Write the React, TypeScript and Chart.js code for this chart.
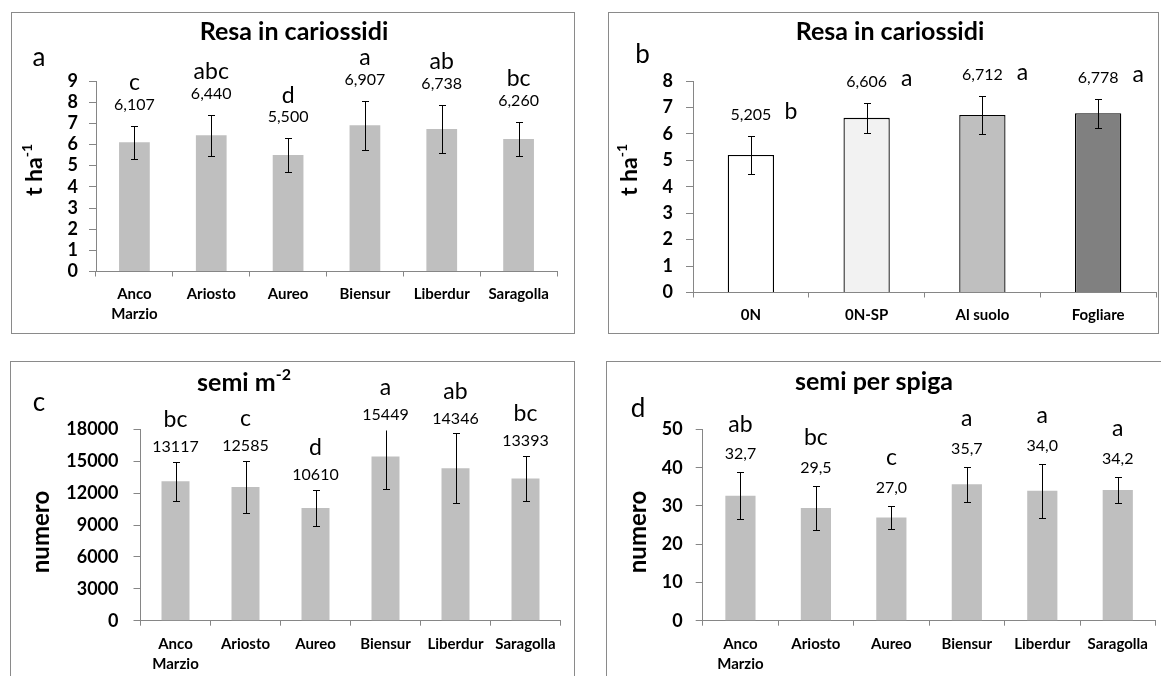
import React, { useEffect, useRef } from 'react';
import { Chart, registerables } from 'chart.js';

Chart.register(...registerables);

const FONT = 'Lato, "Open Sans", sans-serif';

// ---------- data ----------
const varieties = [['Anco', 'Marzio'], 'Ariosto', 'Aureo', 'Biensur', 'Liberdur', 'Saragolla'];
const treatments = ['0N', '0N-SP', 'Al suolo', 'Fogliare'];

const yieldByVariety = [6.107, 6.44, 5.5, 6.907, 6.738, 6.26];
const yieldByVarietyErr = [0.78, 0.96, 0.8, 1.15, 1.13, 0.8];
const yieldByVarietyLetters = ['c', 'abc', 'd', 'a', 'ab', 'bc'];
const yieldTicksA = [0, 9, 1];

const yieldByTreatment = [5.205, 6.606, 6.712, 6.778];
const yieldByTreatmentErr = [0.73, 0.57, 0.71, 0.55];
const yieldByTreatmentLetters = ['b', 'a', 'a', 'a'];
const treatmentColors = ['#ffffff', '#f2f2f2', '#bfbfbf', '#808080'];
const yieldTicksB = [0, 8, 1];

const seedsPerM2 = [13117, 12585, 10610, 15449, 14346, 13393];
const seedsPerM2Err = [1830, 2445, 1725, 3090, 3290, 2115];
const seedsPerM2Letters = ['bc', 'c', 'd', 'a', 'ab', 'bc'];
const seedsTicksC = [0, 18000, 3000];

const seedsPerSpike = [32.7, 29.5, 27.0, 35.7, 34.0, 34.2];
const seedsPerSpikeErr = [6.1, 5.75, 3.05, 4.55, 7.05, 3.4];
const seedsPerSpikeLetters = ['ab', 'bc', 'c', 'a', 'a', 'a'];
const seedsTicksD = [0, 50, 10];

// ---------- helpers ----------
function drawSupText(ctx: CanvasRenderingContext2D, main: string, sup: string, x: number, y: number, size: number, bold: boolean, rotate: boolean) {
  ctx.save();
  ctx.translate(x, y);
  if (rotate) ctx.rotate(-Math.PI / 2);
  const w = bold ? 'bold ' : '';
  const f1 = `${w}${size}px ${FONT}`;
  const supSize = Math.round(size * 0.62);
  const f2 = `${w}${supSize}px ${FONT}`;
  ctx.font = f1;
  const w1 = ctx.measureText(main).width;
  ctx.font = f2;
  const w2 = sup ? ctx.measureText(sup).width : 0;
  const start = -(w1 + w2) / 2;
  ctx.textBaseline = 'middle';
  ctx.textAlign = 'left';
  ctx.fillStyle = '#000';
  ctx.font = f1;
  ctx.fillText(main, start, 0);
  if (sup) {
    ctx.font = f2;
    ctx.fillText(sup, start + w1, -size * 0.32);
  }
  ctx.restore();
}

const decorPlugin = {
  id: 'decor',
  afterDatasetsDraw(chart: any, _args: any, o: any) {
    const { ctx, chartArea } = chart;
    const xs = chart.scales.x;
    const ys = chart.scales.y;
    ctx.save();
    // panel border
    ctx.strokeStyle = '#8a8a8a';
    ctx.lineWidth = 1;
    ctx.strokeRect(0.5, 0.5, chart.width - 1, chart.height - 1);

    // titles
    drawSupText(ctx, o.title, o.titleSup, o.titleX, o.titleY, o.titleSize, true, false);
    drawSupText(ctx, o.tag, '', o.tagX, o.tagY, 26, false, false);
    drawSupText(ctx, o.yTitle, o.yTitleSup, o.yTitleX, o.yTitleY, o.yTitleSize, true, true);

    // error bars
    ctx.strokeStyle = '#000';
    ctx.lineWidth = 1;
    const values: number[] = o.values;
    const errs: number[] = o.errors;
    const tops: number[] = [];
    values.forEach((v, i) => {
      const cx = Math.round(xs.getPixelForValue(i)) + 0.5;
      const top = ys.getPixelForValue(v + errs[i]);
      const bot = ys.getPixelForValue(v - errs[i]);
      const t = Math.max(top, chartArea.top);
      tops.push(t);
      ctx.beginPath();
      ctx.moveTo(cx, Math.round(t) + 0.5);
      ctx.lineTo(cx, Math.round(bot) + 0.5);
      if (top >= chartArea.top) {
        ctx.moveTo(cx - 3.5, Math.round(top) + 0.5);
        ctx.lineTo(cx + 3.5, Math.round(top) + 0.5);
      }
      ctx.moveTo(cx - 3.5, Math.round(bot) + 0.5);
      ctx.lineTo(cx + 3.5, Math.round(bot) + 0.5);
      ctx.stroke();
    });

    // value labels and letters
    ctx.fillStyle = '#000';
    ctx.textAlign = 'center';
    ctx.textBaseline = 'middle';
    values.forEach((v, i) => {
      const cx = xs.getPixelForValue(i);
      const vy = tops[i] - o.valueOffset;
      ctx.font = `16px ${FONT}`;
      ctx.fillText(v.toFixed(o.decimals).replace('.', ','), cx, vy);
      ctx.font = `23px ${FONT}`;
      if (o.letterRight) {
        ctx.fillText(o.letters[i], cx + o.letterDx, vy + o.letterDy);
      } else {
        ctx.fillText(o.letters[i], cx, vy - o.letterOffset);
      }
    });
    ctx.restore();
  },
};

type Spec = {
  left: number; top: number; w: number; h: number;
  area: { l: number; t: number; r: number; b: number };
  labels: any[]; values: number[]; errors: number[]; letters: string[];
  colors: string | string[]; borderWidth: number;
  ticks: number[]; yFont: number; yPad: number;
  decor: any;
};

function ChartPanel({ spec }: { spec: Spec }) {
  const ref = useRef<HTMLCanvasElement>(null);
  useEffect(() => {
    const s = spec;
    const chart = new Chart(ref.current as HTMLCanvasElement, {
      type: 'bar',
      data: {
        labels: s.labels,
        datasets: [
          {
            data: s.values,
            backgroundColor: s.colors,
            borderColor: '#000',
            borderWidth: s.borderWidth,
            barPercentage: 0.4,
            categoryPercentage: 1,
          },
        ],
      },
      options: {
        responsive: false,
        animation: false,
        devicePixelRatio: 1,
        events: [],
        layout: { padding: { left: 0, top: s.area.t, right: s.w - s.area.r, bottom: 0 } },
        plugins: {
          legend: { display: false },
          title: { display: false },
          tooltip: { enabled: false },
          decor: { ...s.decor, values: s.values, errors: s.errors, letters: s.letters },
        } as any,
        scales: {
          x: {
            grid: { drawOnChartArea: false, drawTicks: true, tickLength: 5, color: '#868686', offset: true },
            border: { color: '#868686' },
            ticks: {
              color: '#000',
              font: { family: FONT, size: 15, weight: 'bold', lineHeight: '20px' } as any,
              padding: 8,
              maxRotation: 0,
              autoSkip: false,
            },
            afterFit: (sc: any) => { sc.height = s.h - s.area.b; },
          },
          y: {
            min: s.ticks[0],
            max: s.ticks[1],
            grid: { drawOnChartArea: false, drawTicks: true, tickLength: 7, color: '#868686' },
            border: { color: '#868686' },
            ticks: {
              stepSize: s.ticks[2],
              autoSkip: false,
              color: '#000',
              font: { family: FONT, size: s.yFont, weight: 'bold' } as any,
              padding: s.yPad,
              callback: (v: any) => String(v),
            },
            afterFit: (sc: any) => { sc.width = s.area.l; },
          },
        },
      },
      plugins: [decorPlugin as any],
    });
    return () => chart.destroy();
  }, []);
  return (
    <canvas
      ref={ref}
      width={spec.w}
      height={spec.h}
      style={{ position: 'absolute', left: spec.left, top: spec.top, width: spec.w, height: spec.h }}
    />
  );
}

const specs: Spec[] = [
  {
    left: 11, top: 12, w: 564, h: 322,
    area: { l: 85, t: 69, r: 546, b: 259.5 },
    labels: varieties, values: yieldByVariety, errors: yieldByVarietyErr, letters: yieldByVarietyLetters,
    colors: '#bfbfbf', borderWidth: 0, ticks: yieldTicksA, yFont: 18, yPad: 11,
    decor: {
      title: 'Resa in cariossidi', titleSup: '', titleX: 283, titleY: 20, titleSize: 25,
      tag: 'a', tagX: 28, tagY: 46,
      yTitle: 't ha', yTitleSup: '-1', yTitleX: 24, yTitleY: 158, yTitleSize: 23,
      decimals: 3, valueOffset: 21, letterOffset: 22,
    },
  },
  {
    left: 608, top: 12, w: 551, h: 322,
    area: { l: 85, t: 69, r: 548, b: 280.5 },
    labels: treatments, values: yieldByTreatment, errors: yieldByTreatmentErr, letters: yieldByTreatmentLetters,
    colors: treatmentColors, borderWidth: 1.3, ticks: yieldTicksB, yFont: 18, yPad: 13,
    decor: {
      title: 'Resa in cariossidi', titleSup: '', titleX: 282, titleY: 20, titleSize: 25,
      tag: 'b', tagX: 34.5, tagY: 43,
      yTitle: 't ha', yTitleSup: '-1', yTitleX: 22, yTitleY: 158, yTitleSize: 23,
      decimals: 3, valueOffset: 21, letterRight: true, letterDx: 40, letterDy: -3,
    },
  },
  {
    left: 10, top: 361, w: 565, h: 320,
    area: { l: 130.5, t: 68.5, r: 550.5, b: 259.7 },
    labels: varieties, values: seedsPerM2, errors: seedsPerM2Err, letters: seedsPerM2Letters,
    colors: '#bfbfbf', borderWidth: 0, ticks: seedsTicksC, yFont: 18, yPad: 15,
    decor: {
      title: 'semi m', titleSup: '-2', titleX: 234, titleY: 22, titleSize: 25,
      tag: 'c', tagX: 29, tagY: 42,
      yTitle: 'numero', yTitleSup: '', yTitleX: 31, yTitleY: 171, yTitleSize: 24,
      decimals: 0, valueOffset: 15, letterOffset: 27,
    },
  },
  {
    left: 606, top: 361, w: 570, h: 320,
    area: { l: 96.7, t: 68.5, r: 549.5, b: 259.7 },
    labels: varieties, values: seedsPerSpike, errors: seedsPerSpikeErr, letters: seedsPerSpikeLetters,
    colors: '#bfbfbf', borderWidth: 0, ticks: seedsTicksD, yFont: 18, yPad: 13,
    decor: {
      title: 'semi per spiga', titleSup: '', titleX: 268, titleY: 21, titleSize: 25,
      tag: 'd', tagX: 32, tagY: 48,
      yTitle: 'numero', yTitleSup: '', yTitleX: 32, yTitleY: 171, yTitleSize: 24,
      decimals: 1, valueOffset: 18, letterOffset: 30,
    },
  },
];

export default function App() {
  return (
    <div style={{ position: 'absolute', left: 0, top: 0, width: 1161, height: 676, overflow: 'hidden', background: '#fff' }}>
      {specs.map((s, i) => (
        <ChartPanel key={i} spec={s} />
      ))}
    </div>
  );
}
